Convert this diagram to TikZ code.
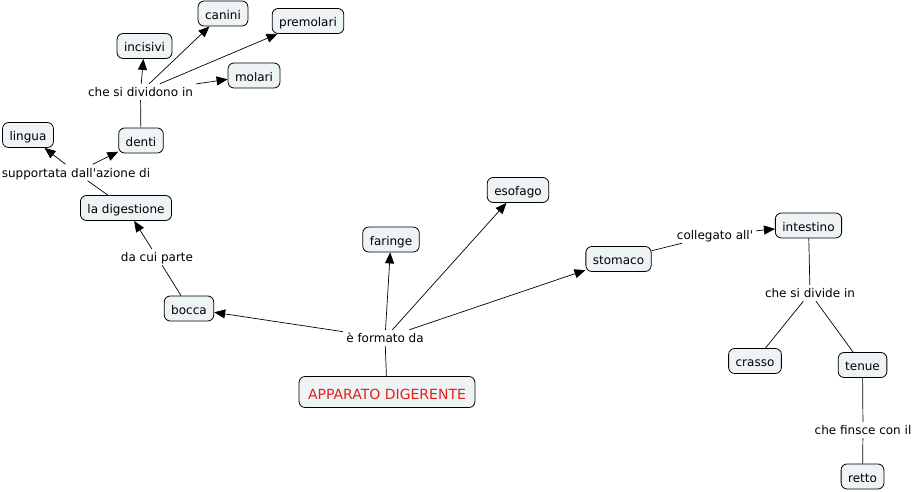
\documentclass[tikz,border=0pt]{standalone}
\usepackage{fontspec}
\newfontfamily\vf{DejaVu Sans}
\usetikzlibrary{arrows.meta}
\definecolor{cfill}{HTML}{EEF3F5}
\definecolor{cred}{HTML}{E3201B}
\tikzset{
  concept/.style={draw=black, fill=cfill, rounded corners=6pt, line width=0.8pt,
    inner xsep=7pt, inner ysep=0pt, minimum height=25pt,
    font=\vf\fontsize{12}{14}\selectfont, text height=12pt, text depth=0.5pt},
  link/.style={inner xsep=3pt, inner ysep=2pt,
    font=\vf\fontsize{12}{14}\selectfont, text height=10.5pt, text depth=1.5pt},
  conn/.style={line width=0.7pt},
  arr/.style={conn, -{Triangle[length=11pt,width=9pt]}},
}
\begin{document}
\begin{tikzpicture}[x=1pt,y=-1pt]
\useasboundingbox (0,0) rectangle (915,492);
% concepts
\node[concept] (canini) at (223,13.5) {canini};
\node[concept] (premolari) at (308,21) {premolari};
\node[concept] (incisivi) at (144.5,46) {incisivi};
\node[concept] (molari) at (254,75.5) {molari};
\node[concept] (lingua) at (28,135) {lingua};
\node[concept] (denti) at (141,140.5) {denti};
\node[concept] (digestione) at (126,208) {la digestione};
\node[concept] (bocca) at (189,308.5) {bocca};
\node[concept] (faringe) at (391,239.5) {faringe};
\node[concept] (esofago) at (518,190) {esofago};
\node[concept] (stomaco) at (618.5,259) {stomaco};
\node[concept] (intestino) at (808.5,225.5) {intestino};
\node[concept] (crasso) at (755,361) {crasso};
\node[concept] (tenue) at (862.5,365) {tenue};
\node[concept] (retto) at (862.5,476.5) {retto};
\node[concept, font=\vf\fontsize{14}{16}\selectfont, text=cred, minimum height=31pt,
  inner xsep=9pt, text height=15pt, text depth=0pt] (app) at (387,392) {APPARATO DIGERENTE};
% linking phrases
\node[link] (l1) at (140.5,92) {che si dividono in};
\node[link] (l2) at (76,172.5) {supportata dall'azione di};
\node[link] (l3) at (157,257) {da cui parte};
\node[link] (l4) at (385,338) {è formato da};
\node[link] (l5) at (715,235) {collegato all'};
\node[link] (l6) at (810,293) {che si divide in};
\node[link] (l7) at (863,430) {che finsce con il};
% connectors
\draw[conn] (denti) -- (l1);
\draw[arr] (l1) -- (incisivi);
\draw[arr] (l1) -- (canini);
\draw[arr] (l1) -- (premolari);
\draw[arr] (l1) -- (molari);
\draw[conn] (digestione) -- (l2);
\draw[arr] (l2) -- (lingua);
\draw[arr] (l2) -- (denti);
\draw[conn] (bocca) -- (l3);
\draw[arr] (l3) -- (digestione);
\draw[conn] (app) -- (l4);
\draw[arr] (l4) -- (bocca);
\draw[arr] (l4) -- (faringe);
\draw[arr] (l4) -- (esofago);
\draw[arr] (l4) -- (stomaco);
\draw[conn] (stomaco) -- (l5);
\draw[arr] (l5) -- (intestino);
\draw[conn] (intestino) -- (l6);
\draw[conn] (l6) -- (crasso);
\draw[conn] (l6) -- (tenue);
\draw[conn] (tenue) -- (l7);
\draw[conn] (l7) -- (retto);
\end{tikzpicture}
\end{document}
